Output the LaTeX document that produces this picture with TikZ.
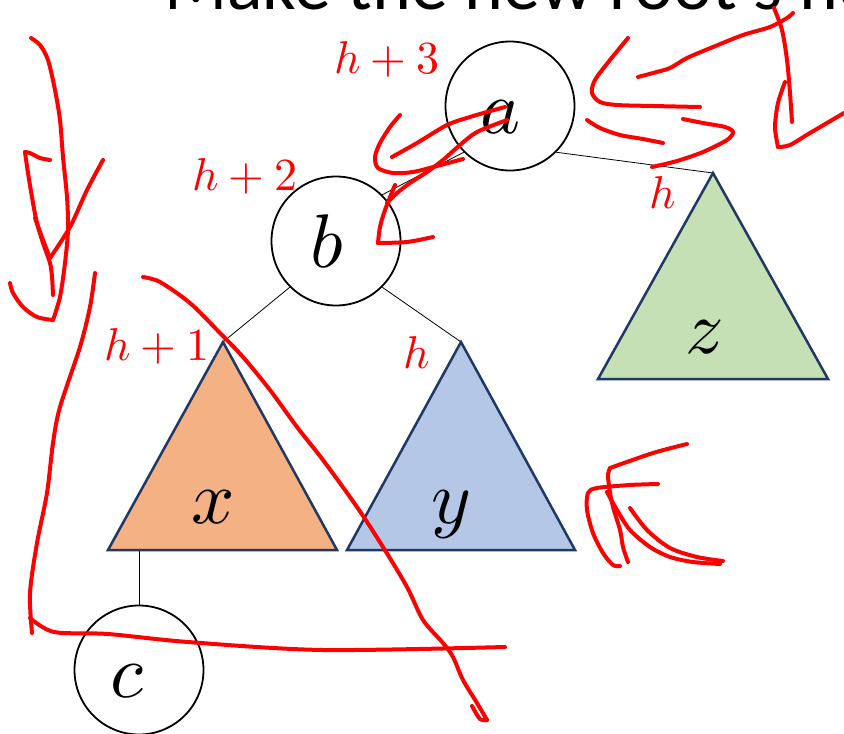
\documentclass[tikz,border=0pt]{standalone}
\usepackage{fontspec}
\usepackage{unicode-math}
\setmathfont{Latin Modern Math}
\newfontfamily\titlefont{Carlito}
\definecolor{navy}{HTML}{203864}
\definecolor{peach}{HTML}{F4B183}
\definecolor{paleblue}{HTML}{B4C7E7}
\definecolor{palegreen}{HTML}{C5E0B4}
\tikzset{
  treenode/.style={circle, draw=black, line width=1.8pt, minimum size=129pt, inner sep=0pt},
  subtree/.style={draw=navy, line width=2.5pt},
  letter/.style={font=\fontsize{76}{76}\selectfont, inner sep=0pt, anchor=base},
  hlabel/.style={red, font=\fontsize{46}{46}\selectfont, inner sep=0pt, anchor=base},
  link/.style={line width=0.8pt},
  scribble/.style={red, line width=4pt, line cap=round, line join=round}
}
\begin{document}
\begin{tikzpicture}[x=1pt, y=-1pt]
  \clip (0,0) rectangle (844,734);
  \node[anchor=base west, inner sep=0pt, font=\titlefont\fontsize{74}{80}\selectfont] (title) at (164,9) {Make the new root's height};
  \node[treenode] (a) at (510,106) {}; \node[treenode] (b) at (336,241) {}; \node[treenode] (c) at (139,670) {};
  \coordinate (xtop) at (223,342); \coordinate (ytop) at (461,342); \coordinate (ztop) at (713,173);
  \coordinate (xbase) at (165,550);
  \draw[link] (a.south west) -- (b.north east); \draw[link] (a.south east) -- (ztop);
  \draw[link] (b.south west) -- (xtop); \draw[link] (b.south east) -- (ytop);
  \draw[link] (c.north) -- (c.north |- xbase);
  \draw[subtree, fill=peach] (xtop) -- (337,550) -- (108,550) -- cycle;
  \draw[subtree, fill=paleblue] (ytop) -- (575,550) -- (347,550) -- cycle;
  \draw[subtree, fill=palegreen] (ztop) -- (828,379) -- (598,379) -- cycle;
  \node[letter] (aname) at (501,133) {$a$}; \node[letter] (bname) at (327,267) {$b$};
  \node[letter] (cname) at (128,697) {$c$};
  \node[letter] (xname) at (213,523) {$x$}; \node[letter] (yname) at (451,523) {$y$};
  \node[letter] (zname) at (704,353) {$z$};
  \node[hlabel] (ha) at (387,73) {$h+3$}; \node[hlabel] (hb) at (245,190) {$h+2$};
  \node[hlabel] (hx) at (157,360) {$h+1$}; \node[hlabel] (hy) at (417,368) {$h$};
  \node[hlabel] (hz) at (663,208) {$h$};
  \draw[scribble] plot[smooth] coordinates {(31,38) (40,45) (48,60) (55,90) (60,120) (63,157) (67,197) (68,230) (65,263) (60,297) (53,320)};
  \draw[scribble] plot[smooth] coordinates {(53,320) (37,317) (23,307) (13,293) (10,283)};
  \draw[scribble] plot[smooth] coordinates {(50,160) (40,158) (30,153) (25,152)};
  \draw[scribble] plot[smooth] coordinates {(25,152) (28,173) (33,203) (37,223) (43,243) (50,263) (52,277) (53,295)};
  \draw[scribble] plot[smooth] coordinates {(103,160) (87,190) (70,227) (50,258)};
  \draw[scribble] plot[smooth] coordinates {(50,258) (43,240) (35,218)};
  \draw[scribble] plot[smooth] coordinates {(95,273) (90,307) (80,347) (60,407) (53,443) (47,493) (37,543) (30,593) (32,633)};
  \draw[scribble] plot[smooth] coordinates {(30,618) (54,632) (108,634) (188,642) (323,650) (505,647)};
  \draw[scribble] plot[smooth] coordinates {(143,277) (160,282) (190,303) (220,333) (243,357) (270,390) (297,427) (323,460) (357,507) (383,547) (407,587) (423,620) (443,643) (453,657) (463,680) (477,703) (487,720)};
  \draw[scribble] plot[smooth] coordinates {(487,720) (480,719) (472,706)};
  \draw[scribble] plot[smooth] coordinates {(400,115) (390,127) (380,143) (375,157) (378,168) (393,173) (413,172) (437,166) (463,159)};
  \draw[scribble] plot[smooth] coordinates {(392,157) (417,143) (447,125) (470,117) (487,112) (505,107)};
  \draw[scribble] plot[smooth] coordinates {(507,120) (477,132) (460,145) (443,160) (427,172) (410,183) (397,193) (387,203)};
  \draw[scribble] plot[smooth] coordinates {(395,185) (385,210) (380,227) (378,243)};
  \draw[scribble] plot[smooth] coordinates {(378,243) (407,242) (433,237)};
  \draw[scribble] plot[smooth] coordinates {(628,38) (610,60) (595,80) (592,93) (600,102) (617,105) (653,106) (700,107)};
  \draw[scribble] plot[smooth] coordinates {(638,77) (653,73) (670,68) (687,58) (713,47) (743,35) (770,27) (787,18) (793,13)};
  \draw[scribble] plot[smooth] coordinates {(587,120) (600,128) (620,135) (643,139) (663,143)};
  \draw[scribble] plot[smooth] coordinates {(683,119) (703,123) (725,127) (733,132) (727,140) (703,152) (677,161) (652,167)};
  \draw[scribble] plot[smooth] coordinates {(774,8) (782,30) (787,60) (790,93) (792,122)};
  \draw[scribble] plot[smooth] coordinates {(785,82) (778,103) (775,127) (778,147)};
  \draw[scribble] plot[smooth] coordinates {(778,147) (790,145) (810,133) (844,113)};
  \draw[scribble] plot[smooth] coordinates {(687,444) (653,453) (610,468)};
  \draw[scribble] plot[smooth] coordinates {(610,468) (608,477) (612,503) (620,530) (623,547) (628,562)};
  \draw[scribble] plot[smooth] coordinates {(658,484) (630,485) (597,488) (588,493) (587,510) (593,533) (603,553) (613,565) (620,566)};
  \draw[scribble] plot[smooth] coordinates {(607,492) (617,510) (630,530) (650,547) (670,557) (693,562) (720,564)};
  \draw[scribble] plot[smooth] coordinates {(630,508) (647,530) (670,548) (697,557) (723,561)};
\end{tikzpicture}
\end{document}
